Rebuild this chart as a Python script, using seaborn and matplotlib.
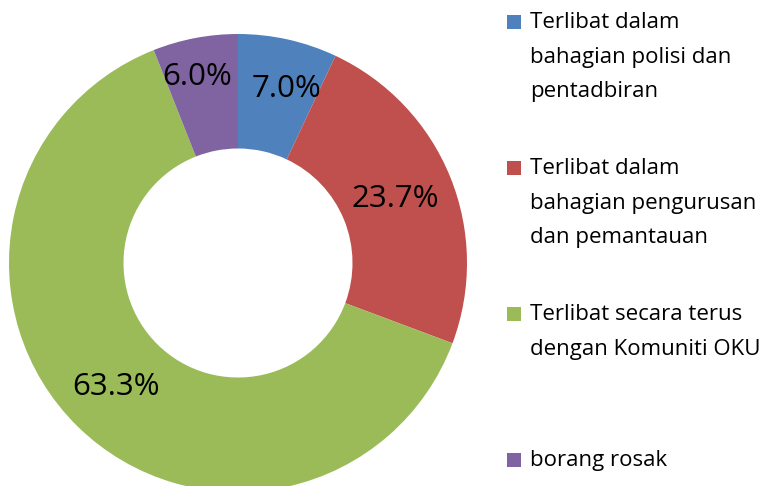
import matplotlib
matplotlib.use("Agg")
import numpy as np
import matplotlib.pyplot as plt
from matplotlib.patches import Rectangle
import seaborn as sns

# data
labels = [
    "Terlibat dalam\nbahagian polisi dan\npentadbiran",
    "Terlibat dalam\nbahagian pengurusan\ndan pemantauan",
    "Terlibat secara terus\ndengan Komuniti OKU",
    "borang rosak",
]
shares = [7.0, 23.7, 63.3, 6.0]
colors = sns.color_palette(["#4F81BD", "#C0504D", "#9BBB59", "#8064A2"])

sns.set_theme(style="white")
plt.rcParams["font.family"] = ["Open Sans", "DejaVu Sans"]

W, H = 776, 486
fig = plt.figure(figsize=(W / 100, H / 100), dpi=100)

# donut centre (238, 263) px, outer radius 229 px
cx, cy, r = 238, 263, 229
ax = fig.add_axes([(cx - r) / W, (H - cy - r) / H, 2 * r / W, 2 * r / H])

wedges, texts, autotexts = ax.pie(
    shares,
    colors=colors,
    startangle=90,
    counterclock=False,
    wedgeprops=dict(width=0.5, edgecolor="none"),
    autopct="%.1f%%",
    pctdistance=0.77,
    textprops=dict(fontsize=22.5, color="black"),
)
# small slices: labels pushed a little outward / apart, like the original
for t, w, rr, dth in zip(autotexts, wedges, [0.79, 0.74, 0.76, 0.83], [-3, 0, 0, 1.5]):
    a = np.deg2rad((w.theta1 + w.theta2) / 2 + dth)
    t.set_position((rr * np.cos(a), rr * np.sin(a)))

ax.set_xlim(-1, 1)
ax.set_ylim(-1, 1)
ax.set_aspect("equal")
ax.axis("off")

# legend drawn by hand so the swatch sits on the first line of each entry
leg_x, leg_y0, leg_step = 507, 22, 146
for i, (lab, col) in enumerate(zip(labels, colors)):
    y = leg_y0 + i * leg_step
    fig.patches.append(Rectangle((leg_x / W, 1 - (y + 7) / H), 14 / W, 14 / H,
                                 transform=fig.transFigure, facecolor=col,
                                 edgecolor="none"))
    fig.text(530 / W, 1 - (y - 10) / H, lab, fontsize=16, va="top", ha="left",
             linespacing=1.85, color="black")

fig.savefig("out.png", dpi=100, facecolor="white")
